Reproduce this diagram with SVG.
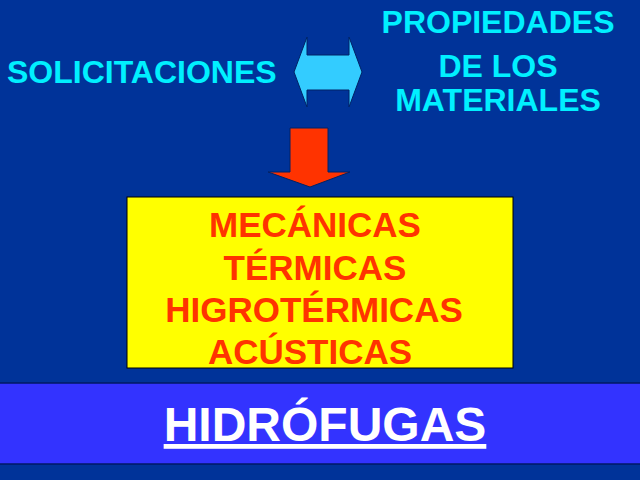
<svg xmlns="http://www.w3.org/2000/svg" width="640" height="480" viewBox="0 0 640 480">
<style>
.t{font-family:"Liberation Sans",Arial,sans-serif;font-weight:bold}
.cy{fill:#00F0FF;font-size:32px}
.rd{fill:#FF3300;font-size:35px}
</style>
<rect x="0" y="0" width="640" height="480" fill="#003399"/>
<g id="solicitaciones">
<text class="t cy" x="7" y="83">SOLICITACIONES</text>
</g>
<g id="propiedades">
<text class="t cy" x="498" y="33" text-anchor="middle">PROPIEDADES</text>
<text class="t cy" x="498" y="77" text-anchor="middle">DE LOS</text>
<text class="t cy" x="498" y="111" text-anchor="middle">MATERIALES</text>
</g>
<g id="connectors">
<polygon points="294,72 307,37 307,55 349,55 349,37 362,72 349,107 349,90 307,90 307,107" fill="#33CCFF" stroke="#002266" stroke-width="1"/>
<polygon points="290,128 328,128 328,172 350,172 310,187 268,172 290,172" fill="#FF3300" stroke="#002266" stroke-width="1"/>
</g>
<g id="tipos">
<rect x="127" y="197" width="386" height="171" fill="#FFFF00" stroke="#000000" stroke-width="1"/>
<text class="t rd" x="315" y="237" text-anchor="middle">MECÁNICAS</text>
<text class="t rd" x="315" y="280" text-anchor="middle">TÉRMICAS</text>
<text class="t rd" x="314" y="322" text-anchor="middle">HIGROTÉRMICAS</text>
<text class="t rd" x="310" y="364" text-anchor="middle">ACÚSTICAS</text>
</g>
<g id="hidrofugas">
<rect x="-1" y="383" width="642" height="81" fill="#3333FF" stroke="#001a66" stroke-width="1.5"/>
<text class="t" x="325" y="441" text-anchor="middle" fill="#FFFFFF" font-size="48" text-decoration="underline">HIDRÓFUGAS</text>
</g>
</svg>
